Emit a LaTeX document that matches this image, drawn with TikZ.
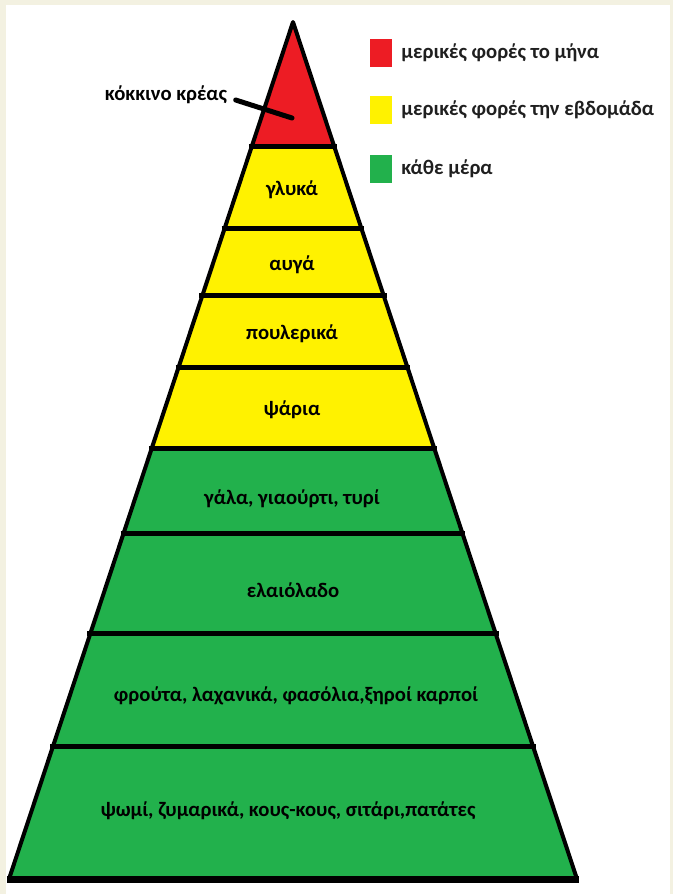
\documentclass[tikz,border=0pt]{standalone}
\usepackage{fontspec}
\setmainfont{Carlito}
\usetikzlibrary{calc,positioning}
\definecolor{pyrred}{HTML}{ED1C24}
\definecolor{pyryellow}{HTML}{FFF200}
\definecolor{pyrgreen}{HTML}{22B14C}
\definecolor{frame}{HTML}{F3F1E1}
\begin{document}
\begin{tikzpicture}[x=1pt,y=-1pt,
food/.style={font=\bfseries\fontsize{20.7}{23}\selectfont, text=black},
key/.style={minimum width=22pt, minimum height=28pt, inner sep=0pt},
keytext/.style={font=\bfseries\fontsize{20.7}{23}\selectfont, text=black!88, right=9pt of #1, inner sep=0pt},
band/.style={line width=5pt, shorten <=-3pt, shorten >=-3pt}
]
\useasboundingbox (0,0) rectangle (673,894);
\fill[frame] (0,0) rectangle (673,894);
\fill[white] (6,5) rectangle (670,894);

% the pyramid
\coordinate (top) at (293,22);
\coordinate (bl) at (9,879);
\coordinate (br) at (577,879);
\foreach \n/\t in {1/0.1447,2/0.2404,3/0.3197,4/0.4026,5/0.4971,6/0.5963,7/0.7141,8/0.8448}{
\coordinate (l\n) at ($(top)!\t!(bl)$);
\coordinate (r\n) at ($(top)!\t!(br)$);
}
\fill[pyrred] (top) -- (r1) -- (l1) -- cycle;
\fill[pyryellow] (l1) -- (r1) -- (r5) -- (l5) -- cycle;
\fill[pyrgreen] (l5) -- (r5) -- (br) -- (bl) -- cycle;
\foreach \n in {1,...,8} \draw[band] (l\n) -- (r\n);
\draw[line width=4pt, line join=round] (bl) -- (top) -- (br);
\draw[line width=7pt, shorten <=-2pt, shorten >=-2pt] (bl) -- (br);

% labels
\node[food] (sweets) at (292,190) {γλυκά};
\node[food] (eggs) at (292,265) {αυγά};
\node[food] (poultry) at (292,334) {πουλερικά};
\node[food] (fish) at (292,410) {ψάρια};
\node[food] (dairy) at (292,499) {γάλα, γιαούρτι, τυρί};
\node[food] (oil) at (293,590) {ελαιόλαδο};
\node[food] (fruit) at (296,696) {φρούτα, λαχανικά, φασόλια,ξηροί καρποί};
\node[food] (bread) at (288,811) {ψωμί, ζυμαρικά, κους-κους, σιτάρι,πατάτες};

\node[food] (meat) at (166,95) {κόκκινο κρέας};
\coordinate (meatpt) at (292,118);
\draw[line width=5pt, line cap=round] ([xshift=5pt,yshift=-5pt]meat.east) -- (meatpt);

% legend
\node[key, fill=pyrred] (month) at (381,53) {};
\node[key, fill=pyryellow] (week) at (381,110) {};
\node[key, fill=pyrgreen] (day) at (381,169) {};
\node[keytext=month] (monthtext) {μερικές φορές το μήνα};
\node[keytext=week] (weektext) {μερικές φορές την εβδομάδα};
\node[keytext=day] (daytext) {κάθε μέρα};
\end{tikzpicture}
\end{document}
